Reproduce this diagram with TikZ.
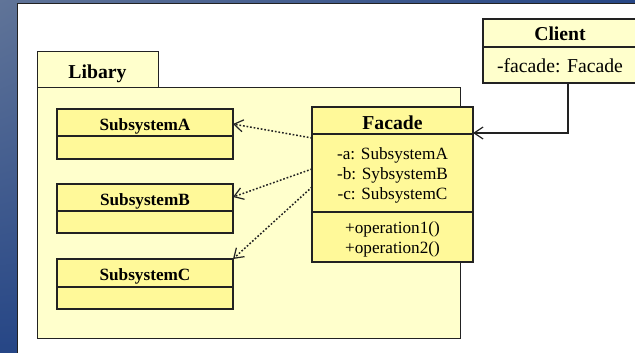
\documentclass[tikz,border=0pt]{standalone}
\usepackage{fontspec}
\setmainfont{Liberation Serif}
\usetikzlibrary{arrows.meta,shadings}

\definecolor{deskLight}{RGB}{96,116,152}
\definecolor{deskDark}{RGB}{38,70,134}
\definecolor{paleYellow}{RGB}{255,255,204}
\definecolor{classYellow}{RGB}{255,249,153}
\definecolor{inkLine}{RGB}{34,34,34}

\tikzset{
  pkgbox/.style={draw=inkLine, line width=1pt, fill=paleYellow,
    inner sep=0pt, outer sep=0pt, anchor=north west},
  classbox/.style={draw=inkLine, line width=1.3pt, fill=classYellow,
    inner sep=0pt, outer sep=0pt, anchor=north west},
  paleclass/.style={classbox, fill=paleYellow},
  divider/.style={draw=inkLine, line width=1.3pt},
  bigtitle/.style={anchor=base, inner sep=0pt, font=\fontsize{19.7}{22}\selectfont\bfseries},
  smalltitle/.style={anchor=base, inner sep=0pt, font=\fontsize{17.2}{20}\selectfont\bfseries},
  bigmember/.style={anchor=base, inner sep=0pt, font=\fontsize{19.7}{22}\selectfont},
  member/.style={anchor=base, inner sep=0pt, font=\fontsize{17.2}{20}\selectfont},
  dep/.style={draw=inkLine, line width=1.5pt, dash pattern=on 1.7pt off 1.9pt,
    -{Straight Barb[length=9pt,width=12pt,line width=1.2pt]}},
  assoc/.style={draw=inkLine, line width=1.3pt,
    -{Straight Barb[length=9pt,width=12pt,line width=1.2pt]}},
}

\begin{document}
\begin{tikzpicture}[x=1pt, y=-1pt]
  \useasboundingbox (0,0) rectangle (635,353);
  \clip (0,0) rectangle (635,353);

  % desktop backdrop and the white sheet on it
  \shade[upper left=deskLight, upper right=deskDark,
         lower left=deskDark, lower right=deskDark] (0,0) rectangle (635,353);
  \draw[draw=inkLine, fill=white, line width=1pt] (17.5,3.5) rectangle (650,365);

  % package "Libary"
  \node[pkgbox, minimum width=423pt, minimum height=250pt] (libBody) at (37,88) {};
  \node[pkgbox, minimum width=121pt, minimum height=36pt] (libTab) at (37,52) {};
  \node[bigtitle] (libName) at (97.5,78) {Libary};

  % subsystem classes
  \node[classbox, minimum width=176pt, minimum height=50pt] (subA) at (57,109) {};
  \draw[divider] (57,136) -- (233,136);
  \node[smalltitle] (subAName) at (145,130.5) {SubsystemA};

  \node[classbox, minimum width=176pt, minimum height=49pt] (subB) at (57,184) {};
  \draw[divider] (57,211) -- (233,211);
  \node[smalltitle] (subBName) at (145,205) {SubsystemB};

  \node[classbox, minimum width=176pt, minimum height=50pt] (subC) at (57,259) {};
  \draw[divider] (57,287) -- (233,287);
  \node[smalltitle] (subCName) at (145,280.5) {SubsystemC};

  % facade class
  \node[classbox, minimum width=161pt, minimum height=155pt] (facade) at (312,107) {};
  \draw[divider] (312,134) -- (473,134);
  \draw[divider] (312,212) -- (473,212);
  \node[bigtitle] (facadeName) at (392.5,129) {Facade};
  \node[member] (attrA) at (392.5,159.3) {-a: SubsystemA};
  \node[member] (attrB) at (392.5,179.3) {-b: SybsystemB};
  \node[member] (attrC) at (392.5,199.3) {-c: SubsystemC};
  \node[member] (opOne) at (392.5,233.3) {+operation1()};
  \node[member] (opTwo) at (392.5,253.3) {+operation2()};

  % client class
  \node[paleclass, minimum width=154pt, minimum height=64pt] (client) at (483,19) {};
  \draw[divider] (483,47) -- (640,47);
  \node[bigtitle] (clientName) at (560,40.7) {Client};
  \node[bigmember] (clientAttr) at (560,72.7) {-facade: Facade};

  % connectors
  \draw[assoc] ([xshift=8pt]client.south) |- ([yshift=51.5pt]facade.east);
  \draw[dep] ([yshift=-31pt]facade.north west) -- ([yshift=10pt]subA.east);
  \draw[dep] ([yshift=-62pt]facade.north west) -- ([yshift=11.5pt]subB.east);
  \draw[dep] ([yshift=-80pt]facade.north west) -- (subC.north east);
\end{tikzpicture}
\end{document}
